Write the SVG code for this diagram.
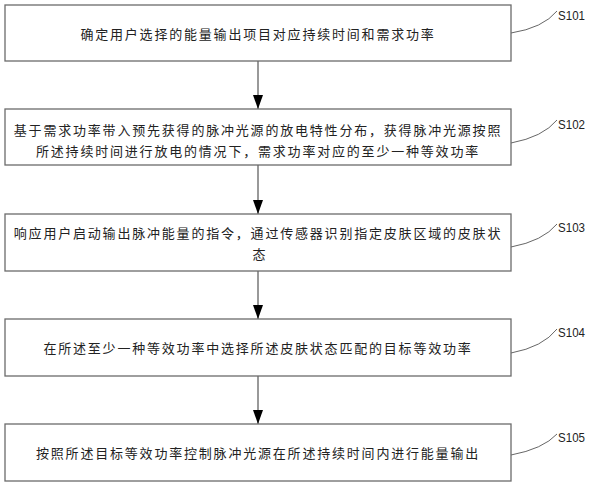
<svg xmlns="http://www.w3.org/2000/svg" width="594" height="482" viewBox="0 0 594 482">
<defs>
<style>
.box{fill:#fff;stroke:#6b6b6b;stroke-width:1.3}
.t{font-family:"Noto Sans CJK SC","Noto Sans CJK JP",sans-serif;font-size:13px;letter-spacing:1.8px;fill:#222;text-anchor:middle;dominant-baseline:central}
.lbl{font-family:"Liberation Sans",Arial,sans-serif;font-size:13px;fill:#222}
.lead{fill:none;stroke:#555;stroke-width:0.9}
.arr{stroke:#555;stroke-width:1.2;fill:none;marker-end:url(#ah)}
</style>
<marker id="ah" viewBox="0 0 14 10" refX="14" refY="5" markerWidth="14" markerHeight="10" markerUnits="userSpaceOnUse" orient="auto">
<path d="M0,0 L14,5 L0,10 Z" fill="#000"/>
</marker>
</defs>
<rect width="594" height="482" fill="#fff"/>
<g id="connectors">
<line class="arr" x1="258" y1="61" x2="258" y2="109"/>
<line class="arr" x1="258" y1="165" x2="258" y2="214"/>
<line class="arr" x1="258" y1="271" x2="258" y2="319"/>
<line class="arr" x1="258" y1="376" x2="258" y2="424"/>
<path class="lead" d="M511,33 Q543,28 557,11"/>
<path class="lead" d="M511,143 Q543,137 557,120"/>
<path class="lead" d="M511,247 Q543,241 557,224"/>
<path class="lead" d="M511,353 Q543,347 557,329"/>
<path class="lead" d="M511,455 Q543,449 557,434"/>
</g>
<g id="S101">
<rect class="box" x="5" y="5" width="506" height="56"/>
<text class="t" x="258" y="33">确定用户选择的能量输出项目对应持续时间和需求功率</text>
<text class="lbl" x="558" y="20" textLength="27" lengthAdjust="spacingAndGlyphs">S101</text>
</g>
<g id="S102">
<rect class="box" x="5" y="109" width="506" height="56"/>
<text class="t" x="258" y="129">基于需求功率带入预先获得的脉冲光源的放电特性分布，获得脉冲光源按照</text>
<text class="t" x="258" y="150">所述持续时间进行放电的情况下，需求功率对应的至少一种等效功率</text>
<text class="lbl" x="558" y="129" textLength="27" lengthAdjust="spacingAndGlyphs">S102</text>
</g>
<g id="S103">
<rect class="box" x="5" y="214" width="506" height="57"/>
<text class="t" x="258" y="232">响应用户启动输出脉冲能量的指令，通过传感器识别指定皮肤区域的皮肤状</text>
<text class="t" x="260" y="253">态</text>
<text class="lbl" x="558" y="232" textLength="27" lengthAdjust="spacingAndGlyphs">S103</text>
</g>
<g id="S104">
<rect class="box" x="5" y="319" width="506" height="57"/>
<text class="t" x="258" y="347.5">在所述至少一种等效功率中选择所述皮肤状态匹配的目标等效功率</text>
<text class="lbl" x="558" y="337" textLength="27" lengthAdjust="spacingAndGlyphs">S104</text>
</g>
<g id="S105">
<rect class="box" x="5" y="424" width="506" height="57"/>
<text class="t" x="258" y="452.5">按照所述目标等效功率控制脉冲光源在所述持续时间内进行能量输出</text>
<text class="lbl" x="558" y="442" textLength="27" lengthAdjust="spacingAndGlyphs">S105</text>
</g>
</svg>
